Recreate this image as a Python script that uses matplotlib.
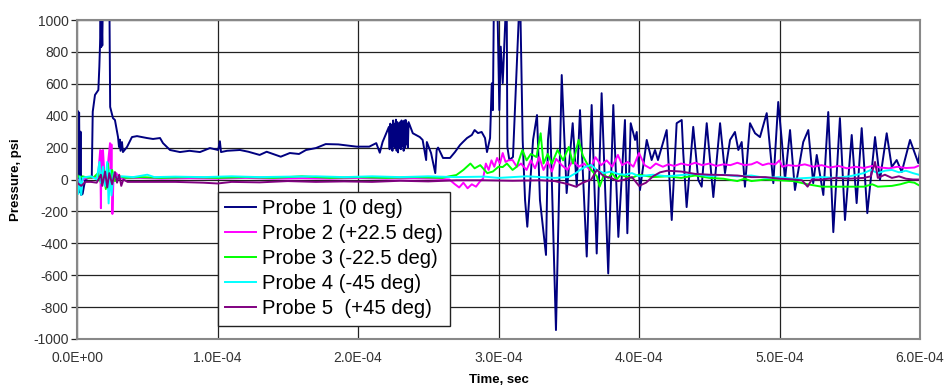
import numpy as np
import matplotlib
matplotlib.use("Agg")
import matplotlib.pyplot as plt
from matplotlib.ticker import FuncFormatter, MultipleLocator

plt.rcParams['font.family'] = ['Liberation Sans', 'DejaVu Sans']
plt.rcParams['axes.unicode_minus'] = False

# time in microseconds, pressure in psi
p1_t = [0.0, 0.5, 1.0, 1.5, 2.0, 2.5, 3.0, 4.0, 5.0, 6.0, 8.0, 10.5, 11.2, 12.8, 15.2, 15.9,
        16.4, 16.8, 17.2, 17.6, 18.0, 18.5, 23.0, 23.6, 25.6, 27.0, 29.2, 29.9, 30.5, 31.0,
        32.0, 32.7, 35.6, 39.1, 42.7, 49.8, 54.1, 59.1, 61.2, 66.2, 73.3, 80, 87.5, 94.6,
        100.5, 101.7, 102.5, 106.8, 116, 122, 130, 135, 145, 151.5, 158, 163, 170, 177, 186,
        199, 208, 213, 215.5, 217.5, 222, 222.5, 223, 223.5, 224, 224.5, 225, 225.5, 226,
        226.5, 227, 227.5, 228, 228.5, 229, 229.5, 230, 230.5, 231, 231.5, 232, 232.5, 233,
        233.5, 234, 234.5, 235, 235.5, 236, 239, 244, 246, 248.5, 249, 252, 255, 256, 257,
        260.5, 265.5, 269, 272.6, 274.7, 277.6, 281, 283, 285.4, 288, 290.4, 291.8, 294,
        295.2, 296, 296.8, 299.0, 300.6, 301.6, 303.0, 305.8, 306.3, 307.7, 310.3, 315.3,
        317.2, 318.9, 320.5, 322.4, 324.6, 327.4, 329.5, 333.8, 335.2, 336.7, 340.9, 345.0,
        348.5, 352.8, 355.7, 358.0, 362.8, 366.3, 369.9, 373.4, 378.1, 381.7, 385.3, 390.0,
        391.7, 394.1, 397.2, 398.4, 400.7, 405.5, 409.0, 411.4, 413.5, 419.7, 423.3, 426.8,
        430.4, 431.5, 433.9, 438.6, 442.2, 444.6, 448.2, 452.9, 457.7, 461.2, 464.8, 468.3,
        470.7, 473.1, 475.4, 479.0, 482.6, 486.1, 490.9, 493.2, 495.6, 499.1, 501.6, 503.9,
        507.5, 511.0, 516.9, 520.5, 524.0, 526.5, 531.2, 534.7, 538.3, 543.0, 546.6, 551.4,
        554.9, 558.5, 562.5, 568.0, 571.5, 576.3, 579.9, 583.4, 587.0, 592.9, 598.8, 600.0]
p1_v = [-30, 430, -60, 420, -80, 300, -97, -90, -40, 0, 10, 10, 425, 530, 561, 707,
        850, 1000, 830, 990, 840, 1200, 1200, 455, 385, 373, 266, 204, 250, 180,
        235, 172, 204, 266, 272, 260, 254, 260, 228, 185, 172, 180, 172, 197,
        185, 240, 172, 180, 185, 174, 154, 174, 143, 166, 160, 185, 197, 222, 220,
        206, 206, 228, 168, 235, 330, 190, 350, 200, 340, 180, 370, 210, 350,
        200, 375, 180, 360, 170, 350, 200, 360, 190, 370, 210, 340, 180, 370,
        200, 373, 220, 350, 200, 360, 290, 266, 248, 122, 235, 166, 40, 185, 200,
        135, 135, 172, 216, 235, 260, 279, 310, 291, 298, 260, 172, 260,
        603, 435, 1200, 1200, 435, 833, 604, 1200, 206, 122, 141, 1200,
        248, -129, -296, -45, 248, 404, -129, -473, 248, 392, -944, 655,
        -85, 353, -45, 435, -483, 467, -464, 541, -589, 467, -360, 373,
        -337, 353, 248, 298, -66, 248, 122, 185, 122, 310, -254, 353,
        373, 166, -173, 330, -3, -45, 353, -110, 353, 40, 248, 298,
        185, 235, -45, 353, 290, 266, 416, 204, -23, 486, 248, -3,
        310, -66, 235, 310, -23, 154, -97, 423, -330, 385, -254, 279,
        -148, 322, -211, 266, -3, 290, 78, 122, 47, 248, 103, 185]

p2_t = [0, 3, 5, 10, 15, 16.5, 17.0, 17.5, 18.0, 18.5, 19.5, 21, 23.5, 24.0, 24.5, 25.2, 26, 28,
        30, 35, 45, 60, 80, 100, 120, 140, 160, 180, 200, 220, 240, 255, 265, 269, 272, 275,
        278, 281, 284, 287, 289, 291, 293, 295, 297, 299, 301, 303, 305, 307, 310, 313, 316,
        320, 323, 326, 329, 332, 335, 338, 341, 345, 349, 353, 357, 361, 365, 369, 373, 377,
        381, 385, 388, 392, 396, 400, 404, 408, 412, 417, 421, 425, 430, 435, 440, 445, 450,
        455, 460, 465, 470, 475, 480, 484, 488, 492, 497, 500, 502, 506, 512, 518, 524, 530,
        536, 542, 548, 554, 560, 566, 572, 578, 584, 590, 596, 600]
p2_v = [5, -20, 5, 10, 20, 185, -180, 180, 40, 185, 30, 10, 228, -40, 220, -216, 20, 40,
        5, 8, 10, 5, 8, 5, 10, 5, 8, 5, 10, 5, 8, 5, 0, -30, -50, -20,
        -55, -30, -45, -10, 5, 100, 60, 120, 80, 135, 100, 166, 110, 120, 122, 80, 100,
        60, 120, 70, 141, 60, 110, 50, 130, 90, 60, 120, 80, 100, 60, 140, 90, 120,
        80, 154, 90, 110, 80, 166, 90, 70, 100, 80, 95, 85, 100, 90, 105, 90, 100,
        85, 95, 90, 105, 90, 95, 110, 90, 100, 95, 120, 80, 90, 85, 95, 80, 90,
        75, 85, 70, 80, 72, 85, 75, 70, 80, 72, 75, 90]

p3_t = [0, 2, 4, 8, 12, 15, 17, 19, 20.5, 22, 23.5, 25, 27, 30, 35, 45, 60, 80, 100, 120, 140,
        160, 180, 200, 220, 240, 260, 265, 270, 275, 280, 283, 287, 292, 296, 300, 303, 306,
        310, 313, 317, 320, 323, 327, 330, 332, 335, 338, 342, 346, 350, 353, 357, 360, 363,
        366, 370, 372, 375, 378, 381, 384, 387, 390, 395, 400, 410, 420, 430, 440, 450, 460,
        470, 475, 480, 490, 500, 510, 520, 530, 540, 560, 566, 570, 580, 586, 592, 596, 600]
p3_v = [30, 10, 20, 10, 15, 40, -20, 60, -60, 100, -40, 60, -10, 20, 10, 15, 10, 15, 10, 15, 10,
        20, 10, 15, 10, 15, 10, 20, 28, 60, 100, 70, 90, 40, 50, 80, 78, 100,
        60, 80, 185, 120, 160, 141, 290, 100, 160, 100, 185, 120, 204, 100, 248, 150, 100,
        60, 20, -45, 30, 10, 40, 0, 30, 20, 10, 30, 15, 20, 10, 25, 10, 5,
        -10, 5, -10, 0, -5, -10, -30, -45, -45, -45, -30, -45, -40, -30, -15, -20, -40]

p4_t = [0, 1, 2, 3, 4, 6, 10, 14, 16, 17, 18.5, 20, 21.5, 22.5, 23.5, 24.5, 26, 28, 32, 40, 50,
        55, 70, 90, 110, 130, 150, 170, 190, 210, 230, 250, 270, 290, 300, 320, 340, 350, 355,
        358, 362, 366, 370, 375, 380, 385, 390, 395, 400, 410, 420, 430, 440, 450, 460, 470,
        480, 490, 500, 510, 520, 530, 540, 550, 560, 565, 570, 575, 580, 585, 590, 595, 600]
p4_v = [-40, -90, 20, -97, 10, 15, 20, 0, 110, -20, 80, -40, 110, -150, 60, -100, 40, 10, 20, 15, 30,
        15, 18, 15, 20, 15, 18, 20, 15, 20, 15, 20, 15, 18, 10, 20, 10, 15, 40,
        60, 80, 91, 60, 40, 50, 35, 30, 40, 20, 30, 20, 28, 35, 20, 30, 20,
        25, 10, 15, 5, 10, 15, 10, 20, 40, 60, 40, 55, 60, 45, 55, 40, 28]

p5_t = [0, 3, 6, 10, 14, 17, 18, 20, 21.5, 23, 25, 27, 28.5, 30, 31.5, 33, 36, 50, 70, 90, 100,
        110, 130, 150, 170, 190, 210, 230, 250, 270, 290, 310, 330, 340, 350, 355, 360, 366,
        370, 375, 380, 385, 390, 395, 400, 405, 410, 415, 420, 430, 440, 450, 460, 470, 480,
        490, 500, 510, 516, 520, 523, 530, 540, 550, 560, 565, 568, 570, 575, 580, 585, 590,
        595, 600]
p5_v = [-20, -40, -15, -15, -20, 30, -40, 50, -50, 40, -30, 47, -20, 30, -40, 0, -15, -15, -15, -20, -25,
        -15, -18, -10, -15, -12, -15, -8, -12, -5, -5, -8, -5, -10, -30, -45, -20, 0,
        60, 20, 10, -10, 0, 15, -40, -20, 20, 45, 55, 50, 35, 30, 28, 25, 15,
        15, 5, 0, -5, -45, 0, 0, 10, 5, 10, 20, 110, 10, 30, 10, 20, 5,
        0, 0]

series = [
    (p1_t, p1_v, '#000080', 'Probe 1 (0 deg)'),
    (p2_t, p2_v, '#FF00FF', 'Probe 2 (+22.5 deg)'),
    (p3_t, p3_v, '#00FF00', 'Probe 3 (-22.5 deg)'),
    (p4_t, p4_v, '#00FFFF', 'Probe 4 (-45 deg)'),
    (p5_t, p5_v, '#800080', 'Probe 5  (+45 deg)'),
]

fig = plt.figure(figsize=(9.46, 3.88), dpi=100)
ax = fig.add_axes([77 / 946, 49 / 388, 843 / 946, 319 / 388])

for t, v, c, lab in series:
    ax.plot(np.array(t) * 1e-6, v, color=c, lw=1.4, label=lab)

ax.set_xlim(0, 6e-4)
ax.set_ylim(-1000, 1000)
ax.xaxis.set_major_locator(MultipleLocator(1e-4))
ax.yaxis.set_major_locator(MultipleLocator(200))
ax.xaxis.set_major_formatter(FuncFormatter(lambda x, p: f"{x:.1E}"))
ax.yaxis.set_major_formatter(FuncFormatter(lambda y, p: f"{y:.0f}"))

ax.grid(True, color='#222222', lw=0.9)
ax.set_axisbelow(True)
for s in ax.spines.values():
    s.set_color('#888888')
    s.set_linewidth(1.5)

ax.tick_params(axis='y', length=4, width=0.9, color='#222222', labelsize=10, pad=2)
ax.tick_params(axis='x', length=0, labelsize=10, pad=9)
for lbl in ax.get_xticklabels() + ax.get_yticklabels():
    lbl.set_color('#333333')

ax.set_xlabel('Time, sec', fontsize=9.5, fontweight='bold', labelpad=6)
ax.set_ylabel('Pressure, psi', fontsize=9.5, fontweight='bold', labelpad=8)

leg = ax.legend(loc='upper left', bbox_to_anchor=((218 - 77) / 843, (339 - 192) / 319),
                borderaxespad=0, fontsize=14.6, handlelength=1.5, handletextpad=0.3,
                labelspacing=0.3, borderpad=0.35, fancybox=False, framealpha=1,
                edgecolor='#222222', shadow=False)
leg.get_frame().set_linewidth(1.0)

fig.savefig('out.png', dpi=100)
